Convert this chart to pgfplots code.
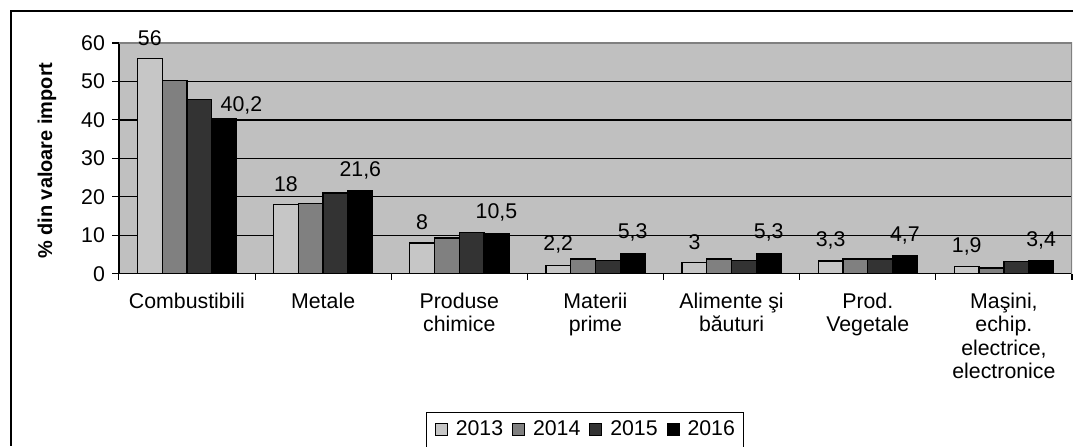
\documentclass[border=0pt]{standalone}
\usepackage{fontspec}
\setmainfont{Liberation Sans}
\usepackage{pgfplots}
\pgfplotsset{compat=1.18}
\definecolor{bgc}{HTML}{C0C0C0}
\definecolor{cA}{HTML}{C6C6C6}
\definecolor{cB}{HTML}{808080}
\definecolor{cC}{HTML}{333333}
\definecolor{cD}{HTML}{000000}
\definecolor{brd}{HTML}{808080}
\begin{document}
\begin{tikzpicture}
\path (0,0) rectangle (805.5pt,-334.5pt);
\draw[line width=1.5pt] (7.9pt,-334.5pt) -- (7.9pt,-8.25pt) -- (805.5pt,-8.25pt);
\node[overlay, anchor=base, inner sep=0pt, font=\fontsize{16}{17.5}\selectfont] at (345pt,3.6pt) {(};
\node[overlay, anchor=base, inner sep=0pt, font=\fontsize{16}{17.5}\selectfont] at (480.5pt,3.6pt) {)};
\begin{axis}[
  at={(89.25pt,-205.5pt)}, anchor=south west,
  scale only axis, width=715.5pt, height=173.25pt,
  ybar=0pt, bar width=0.182,
  xmin=-0.5, xmax=6.5, ymin=0, ymax=60,
  ytick={0,10,...,60},
  xtick={0,...,6},
  xticklabels={Combustibili, Metale, {Produse\\chimice}, {Materii\\prime}, {Alimente şi\\băuturi}, {Prod.\\Vegetale}, {Maşini,\\echip.\\electrice,\\electronice}},
  minor xtick={-0.5,0.5,...,6.5},
  major x tick style={draw=none},
  minor x tick style={black, line width=0.8pt},
  minor tick length=4.5pt,
  y tick style={black, line width=0.8pt},
  major tick length=5pt,
  tick align=outside,
  xtick pos=bottom, ytick pos=left,
  axis x line*=bottom, axis y line*=left,
  axis line style={black, line width=1pt, -},
  axis background/.style={fill=bgc},
  ymajorgrids, major grid style={black, line width=1pt},
  /pgf/number format/assume math mode=true,
  tick label style={font=\fontsize{16}{17.5}\selectfont},
  xticklabel style={align=center, anchor=north, yshift=-6pt},
  yticklabel style={xshift=-2pt},
  ylabel={\% din valoare import},
  ylabel style={at={(axis description cs:-0.0755,0.49)}, anchor=center, font=\bfseries\fontsize{15}{17}\selectfont},
  every axis plot/.append style={draw=black, line width=1pt},
  nodes near coords align={center},
  every node near coord/.append style={font=\fontsize{16}{17.5}\selectfont, yshift=15.4pt, text=black},
  legend style={name=leg, overlay, at={(0.489,-0.602)}, anchor=north, draw=none, font=\fontsize{16}{17.5}\selectfont, legend columns=4, inner xsep=6.5pt, inner ysep=6pt,
    nodes={inner sep=0pt},
    /tikz/every odd column/.append style={column sep=6pt},
    /tikz/every even column/.append style={column sep=6.8pt}},
  legend image code/.code={\draw[#1, line width=0.6pt] (0pt,-4.5pt) rectangle (9pt,4.5pt);},
]
\addplot[fill=cA, nodes near coords, point meta=explicit symbolic] coordinates {
 (0,56) [56] (1,18) [18] (2,8) [8] (3,2.2) [2,2] (4,3) [3] (5,3.3) [3,3] (6,1.9) [1,9]};
\addlegendentry{2013}
\addplot[fill=cB] coordinates {
 (0,50.3) (1,18.3) (2,9.3) (3,3.8) (4,3.8) (5,3.8) (6,1.5)};
\addlegendentry{2014}
\addplot[fill=cC] coordinates {
 (0,45.3) (1,21) (2,10.8) (3,3.5) (4,3.5) (5,3.8) (6,3.1)};
\addlegendentry{2015}
\addplot[fill=cD, nodes near coords, point meta=explicit symbolic,
  coordinate style/.condition={x==0}{xshift=13pt, yshift=-4.9pt}] coordinates {
 (0,40.2) [40,2] (1,21.6) [21,6] (2,10.5) [10,5] (3,5.3) [5,3] (4,5.3) [5,3] (5,4.7) [4,7] (6,3.4) [3,4]};
\addlegendentry{2016}
\draw[brd, line width=1.5pt] (rel axis cs:0,1) -- (rel axis cs:1,1) -- (rel axis cs:1,0);
\end{axis}
\draw[overlay, black, line width=0.8pt] ([yshift=-20pt]leg.south west) -- (leg.north west) -- (leg.north east) -- ([yshift=-20pt]leg.south east);
\end{tikzpicture}
\end{document}
